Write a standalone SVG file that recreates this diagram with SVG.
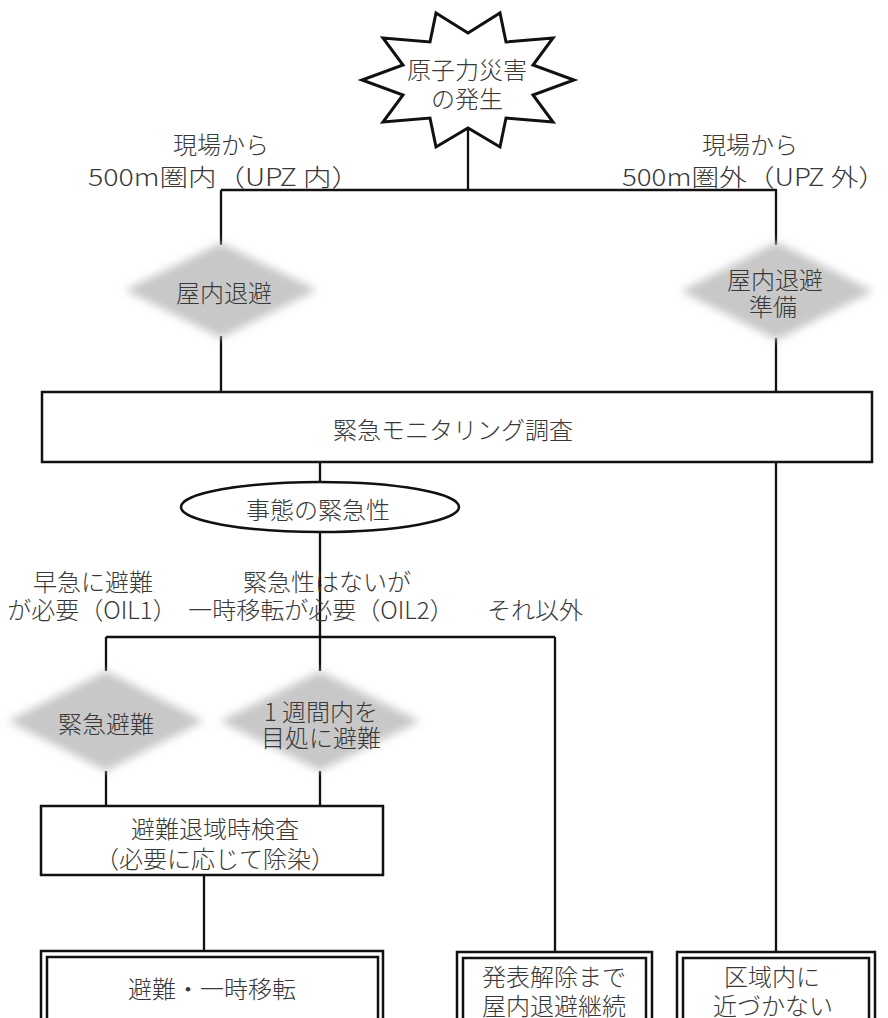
<svg xmlns="http://www.w3.org/2000/svg" width="888" height="1018" viewBox="0 0 888 1018">
<defs>
<style>
.t{font-family:"Noto Sans CJK JP","Noto Sans CJK SC",sans-serif;font-size:24px;font-weight:300;fill:#383838;text-anchor:middle}
.ln{stroke:#111;stroke-width:2.3;fill:none}
.bx{stroke:#111;stroke-width:2.5;fill:#fff}
.dm{fill:#c8c8c8;filter:url(#soft)}
</style>
<filter id="soft" x="-20%" y="-30%" width="140%" height="160%"><feGaussianBlur stdDeviation="4"/></filter>
</defs>
<rect width="888" height="1018" fill="#fff"/>
<g id="connectors">
<path class="ln" d="M468 128V190M221 190H777M221 190V245M221 336V392M776 190V245M776 338V952"/>
<path class="ln" d="M320 462V482M320 532V637M106 637H555M106 637V671M320 637V671M106 771V806M320 771V806M204 875V951M555 637V952"/>
</g>
<g id="star">
<polygon points="436,13 468,33 500,13 506,42 553,38 533,65 574,80 533,95 553,122 506,118 500,147 468,128 436,147 430,118 383,122 403,95 362,80 403,65 383,38 430,42" fill="#fff" stroke="#111" stroke-width="3" stroke-linejoin="miter"/>
<text class="t" x="467" y="79" font-size="23">原子力災害</text>
<text class="t" x="467" y="108" font-size="23">の発生</text>
</g>
<g id="label-in">
<text class="t" x="221" y="154" font-size="25">現場から</text>
<text class="t" x="224" y="186" font-size="25" textLength="272" lengthAdjust="spacingAndGlyphs">500m圏内（UPZ 内）</text>
</g>
<g id="label-out">
<text class="t" x="750" y="154" font-size="25">現場から</text>
<text class="t" x="754" y="186" font-size="25" textLength="264" lengthAdjust="spacingAndGlyphs">500m圏外（UPZ 外）</text>
</g>
<g id="d-indoor">
<polygon class="dm" points="221,243 317,290 221,338 125,290"/>
<text class="t" x="224" y="302" font-size="25">屋内退避</text>
</g>
<g id="d-prep">
<polygon class="dm" points="777,242 873,291 777,340 681,291"/>
<text class="t" x="775" y="289" font-size="25">屋内退避</text>
<text class="t" x="773" y="316" font-size="25">準備</text>
</g>
<g id="monitoring">
<rect class="bx" x="42" y="392" width="830" height="70"/>
<text class="t" x="453" y="439">緊急モニタリング調査</text>
</g>
<g id="urgency">
<ellipse class="bx" cx="320" cy="507" rx="139" ry="25"/>
<text class="t" x="318" y="519">事態の緊急性</text>
</g>
<g id="label-oil1">
<text class="t" x="93" y="591">早急に避難</text>
<text class="t" x="92" y="619">が必要（OIL1）</text>
</g>
<g id="label-oil2">
<text class="t" x="327" y="591">緊急性はないが</text>
<text class="t" x="321" y="619">一時移転が必要（OIL2）</text>
</g>
<g id="label-other">
<text class="t" x="535" y="619">それ以外</text>
</g>
<g id="d-emergency">
<polygon class="dm" points="106,671 204,721 106,771 8,721"/>
<text class="t" x="106" y="733">緊急避難</text>
</g>
<g id="d-week">
<polygon class="dm" points="320,671 420,721 320,771 220,721"/>
<text class="t" x="321" y="721">1 週間内を</text>
<text class="t" x="321" y="747">目処に避難</text>
</g>
<g id="inspection">
<rect class="bx" x="41" y="806" width="342" height="69"/>
<text class="t" x="215" y="838">避難退域時検査</text>
<text class="t" x="215" y="868">（必要に応じて除染）</text>
</g>
<g id="evacuate">
<rect class="bx" x="41" y="951" width="342" height="80"/>
<rect class="bx" x="47" y="957" width="331" height="80" stroke-width="2"/>
<text class="t" x="212" y="998">避難・一時移転</text>
</g>
<g id="shelter">
<rect class="bx" x="457" y="952" width="195" height="80"/>
<rect class="bx" x="463" y="958" width="183" height="80" stroke-width="2"/>
<text class="t" x="554" y="986">発表解除まで</text>
<text class="t" x="554" y="1015">屋内退避継続</text>
</g>
<g id="keepaway">
<rect class="bx" x="677" y="952" width="198" height="80"/>
<rect class="bx" x="683" y="958" width="186" height="80" stroke-width="2"/>
<text class="t" x="772" y="986">区域内に</text>
<text class="t" x="773" y="1015">近づかない</text>
</g>
</svg>
